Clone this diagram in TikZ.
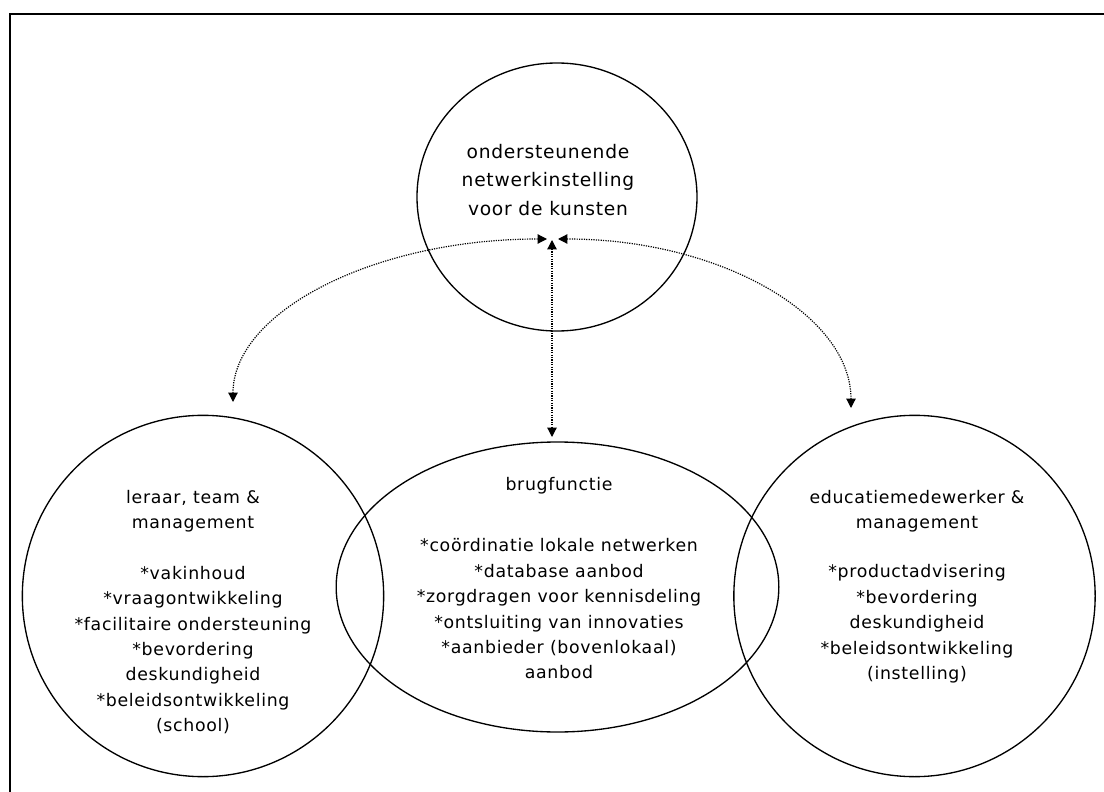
\documentclass[tikz,border=0pt]{standalone}
\usepackage{fontspec}
\setmainfont{DejaVu Sans}[LetterSpace=4]
\usetikzlibrary{arrows.meta,shapes.geometric}
\begin{document}
\begin{tikzpicture}[x=0.75pt,y=-0.75pt,
  ring/.style={draw, ellipse, line width=1pt, inner sep=0pt, outer sep=0pt},
  lbl/.style={align=center, inner sep=0pt, font=\fontsize{13}{19.05}\selectfont},
  toplbl/.style={align=center, inner sep=0pt, font=\fontsize{14}{21.4}\selectfont},
  tip/.tip={Triangle[length=7pt,width=7pt]},
  link/.style={line width=0.9pt, dash pattern=on 0.9pt off 0.9pt, tip-tip}]
\useasboundingbox (0,0) rectangle (1104,792);
\clip (0,0) rectangle (1104,792);
\draw[line width=2pt] (10,14) rectangle (1130,820);

% circles
\node[ring, minimum width=210pt, minimum height=201pt] (top) at (557,197) {};
\node[ring, minimum width=271pt, minimum height=271pt] (left) at (203,596) {};
\node[ring, minimum width=332pt, minimum height=217.5pt] (mid) at (557.5,587) {};
\node[ring, minimum width=271pt, minimum height=271pt] (right) at (914.5,596) {};

% texts
\node[toplbl] (ttop) at (548,180) {ondersteunende\\netwerkinstelling\\voor de kunsten};
\node[lbl] (hleft) at (193,511) {leraar, team \&\\management};
\node[lbl] (lleft) at (193,650) {*vakinhoud\\*vraagontwikkeling\\*facilitaire ondersteuning\\*bevordering\\deskundigheid\\*beleidsontwikkeling\\(school)};
\node[lbl] (hmid) at (559,486) {brugfunctie};
\node[lbl] (lmid) at (559,609) {*coördinatie lokale netwerken\\*database aanbod\\*zorgdragen voor kennisdeling\\*ontsluiting van innovaties\\*aanbieder (bovenlokaal)\\aanbod};
\node[lbl] (hright) at (917,511) {educatiemedewerker \&\\management};
\node[lbl] (lright) at (917,624) {*productadvisering\\*bevordering\\deskundigheid\\*beleidsontwikkeling\\(instelling)};

% connector ends
\coordinate (jL) at (547,239);
\coordinate (jR) at (558,239);
\coordinate (jV) at (552,240);
\coordinate (eL) at (233,402);
\coordinate (eR) at (851,408);
\coordinate (eV) at (552,437);

\draw[link] (eL) .. controls (233,312) and (373.6,239) .. (jL);
\draw[link] (jR) .. controls (719.8,239) and (851,314.7) .. (eR);
\draw[link] (jV) -- (eV);
\end{tikzpicture}
\end{document}
